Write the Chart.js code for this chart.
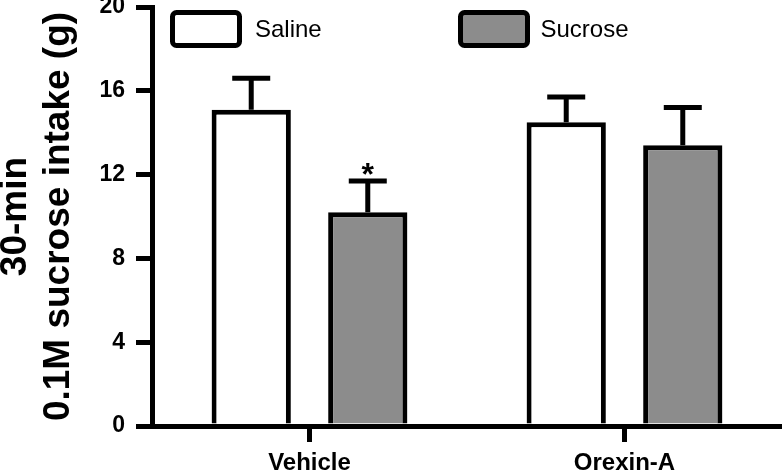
<!DOCTYPE html>
<html>
<head>
<meta charset="utf-8">
<title>30-min sucrose intake</title>
<script src="https://cdn.jsdelivr.net/npm/chart.js@4.4.1/dist/chart.umd.min.js"></script>
<style>
  body { margin: 0; background: #fff; }
  #wrap { width: 782px; height: 471px; position: relative; }
</style>
</head>
<body>
<div id="wrap"><canvas id="intakeChart"></canvas></div>
<script>
//----------------------
// Data
//----------------------

const groups = ['Vehicle', 'Orexin-A'];
const salineMean = [15.1, 14.5];
const salineSem = [1.5, 1.2];
const sucroseMean = [10.2, 13.4];
const sucroseSem = [1.5, 1.8];
const sucroseMarks = ['*', ''];
const yTicks = [0, 4, 8, 12, 16, 20];

const FONT = '"Liberation Sans", Arial, Helvetica, sans-serif';

//----------------------
// Plugins: error bars + legend boxes
//----------------------

const errorBars = {
    id: 'errorBars',
    afterDatasetsDraw(chart) {
        const ctx = chart.ctx;
        const yScale = chart.scales.y;
        chart.data.datasets.forEach((ds, i) => {
            const meta = chart.getDatasetMeta(i);
            meta.data.forEach((bar, j) => {
                const top = yScale.getPixelForValue(ds.data[j] + ds.sem[j]);
                ctx.save();
                ctx.strokeStyle = '#000';
                ctx.lineWidth = 5;
                ctx.beginPath();
                ctx.moveTo(bar.x, bar.y);
                ctx.lineTo(bar.x, top);
                ctx.moveTo(bar.x - 19, top);
                ctx.lineTo(bar.x + 19, top);
                ctx.stroke();
                if (ds.marks && ds.marks[j]) { // significance star
                    ctx.fillStyle = '#000';
                    ctx.font = 'bold 32px ' + FONT;
                    ctx.textAlign = 'center';
                    ctx.textBaseline = 'alphabetic';
                    ctx.fillText(ds.marks[j], bar.x, top + 4);
                }
                ctx.restore();
            });
        });
    }
};

const boxLegend = {
    id: 'boxLegend',
    afterDraw(chart, args, opts) {
        const ctx = chart.ctx;
        const area = chart.chartArea;
        chart.data.datasets.forEach((ds, i) => {
            const x = area.left + opts.offsets[i];
            const y = area.top + opts.top;
            ctx.save();
            ctx.lineWidth = 5;
            ctx.strokeStyle = '#000';
            ctx.fillStyle = ds.backgroundColor;
            ctx.beginPath();
            ctx.roundRect(x, y, 67, 33, 4);
            ctx.fill();
            ctx.stroke();
            ctx.fillStyle = '#000';
            ctx.font = '24px ' + FONT;
            ctx.textBaseline = 'middle';
            ctx.fillText(ds.label, x + opts.textGap[i], y + 18);
            ctx.restore();
        });
    }
};

//----------------------
// Chart
//----------------------

const ctx = document.getElementById('intakeChart').getContext('2d');
const chart = new Chart(ctx, {
    type: 'bar',
    data: {
        labels: groups,
        datasets: [
            {
                label: 'Saline',
                data: salineMean,
                sem: salineSem,
                backgroundColor: '#ffffff',
                borderColor: '#000',
                borderWidth: 5,
                borderSkipped: 'bottom'
            },
            {
                label: 'Sucrose',
                data: sucroseMean,
                sem: sucroseSem,
                marks: sucroseMarks,
                backgroundColor: '#8c8c8c',
                borderColor: '#000',
                borderWidth: 5,
                borderSkipped: 'bottom'
            }
        ]
    },
    options: {
        responsive: true,
        maintainAspectRatio: false,
        animation: false,
        categoryPercentage: 0.74,
        barPercentage: 0.68,
        layout: { padding: 0 },
        plugins: {
            legend: { display: false },
            tooltip: { enabled: false },
            boxLegend: { offsets: [20.5, 308.5], top: 5.5, textGap: [82.5, 80] }
        },
        scales: {
            x: {
                grid: { offset: false, drawOnChartArea: false, tickLength: 16, lineWidth: 5, color: '#000' },
                border: { color: '#000', width: 5 },
                ticks: { color: '#000', padding: 7, font: { family: FONT, size: 24, weight: 'bold' } },
                afterFit: s => { s.height = 45; }
            },
            y: {
                min: 0,
                max: 20,
                afterBuildTicks: s => { s.ticks = yTicks.map(v => ({ value: v })); },
                grid: { drawOnChartArea: false, tickLength: 16, lineWidth: 5, color: '#000' },
                border: { color: '#000', width: 5 },
                ticks: { color: '#000', padding: 11, font: { family: FONT, size: 23, weight: 'bold' } },
                title: {
                    display: true,
                    text: ['30-min', '0.1M sucrose intake (g)'],
                    color: '#000',
                    padding: { top: -5.5, bottom: 0 },
                    font: { family: FONT, size: 37, weight: 'bold', lineHeight: '43px' }
                },
                afterFit: s => { s.width = 152; s.paddingTop = 7; }
            }
        }
    },
    plugins: [errorBars, boxLegend]
});
</script>
</body>
</html>
